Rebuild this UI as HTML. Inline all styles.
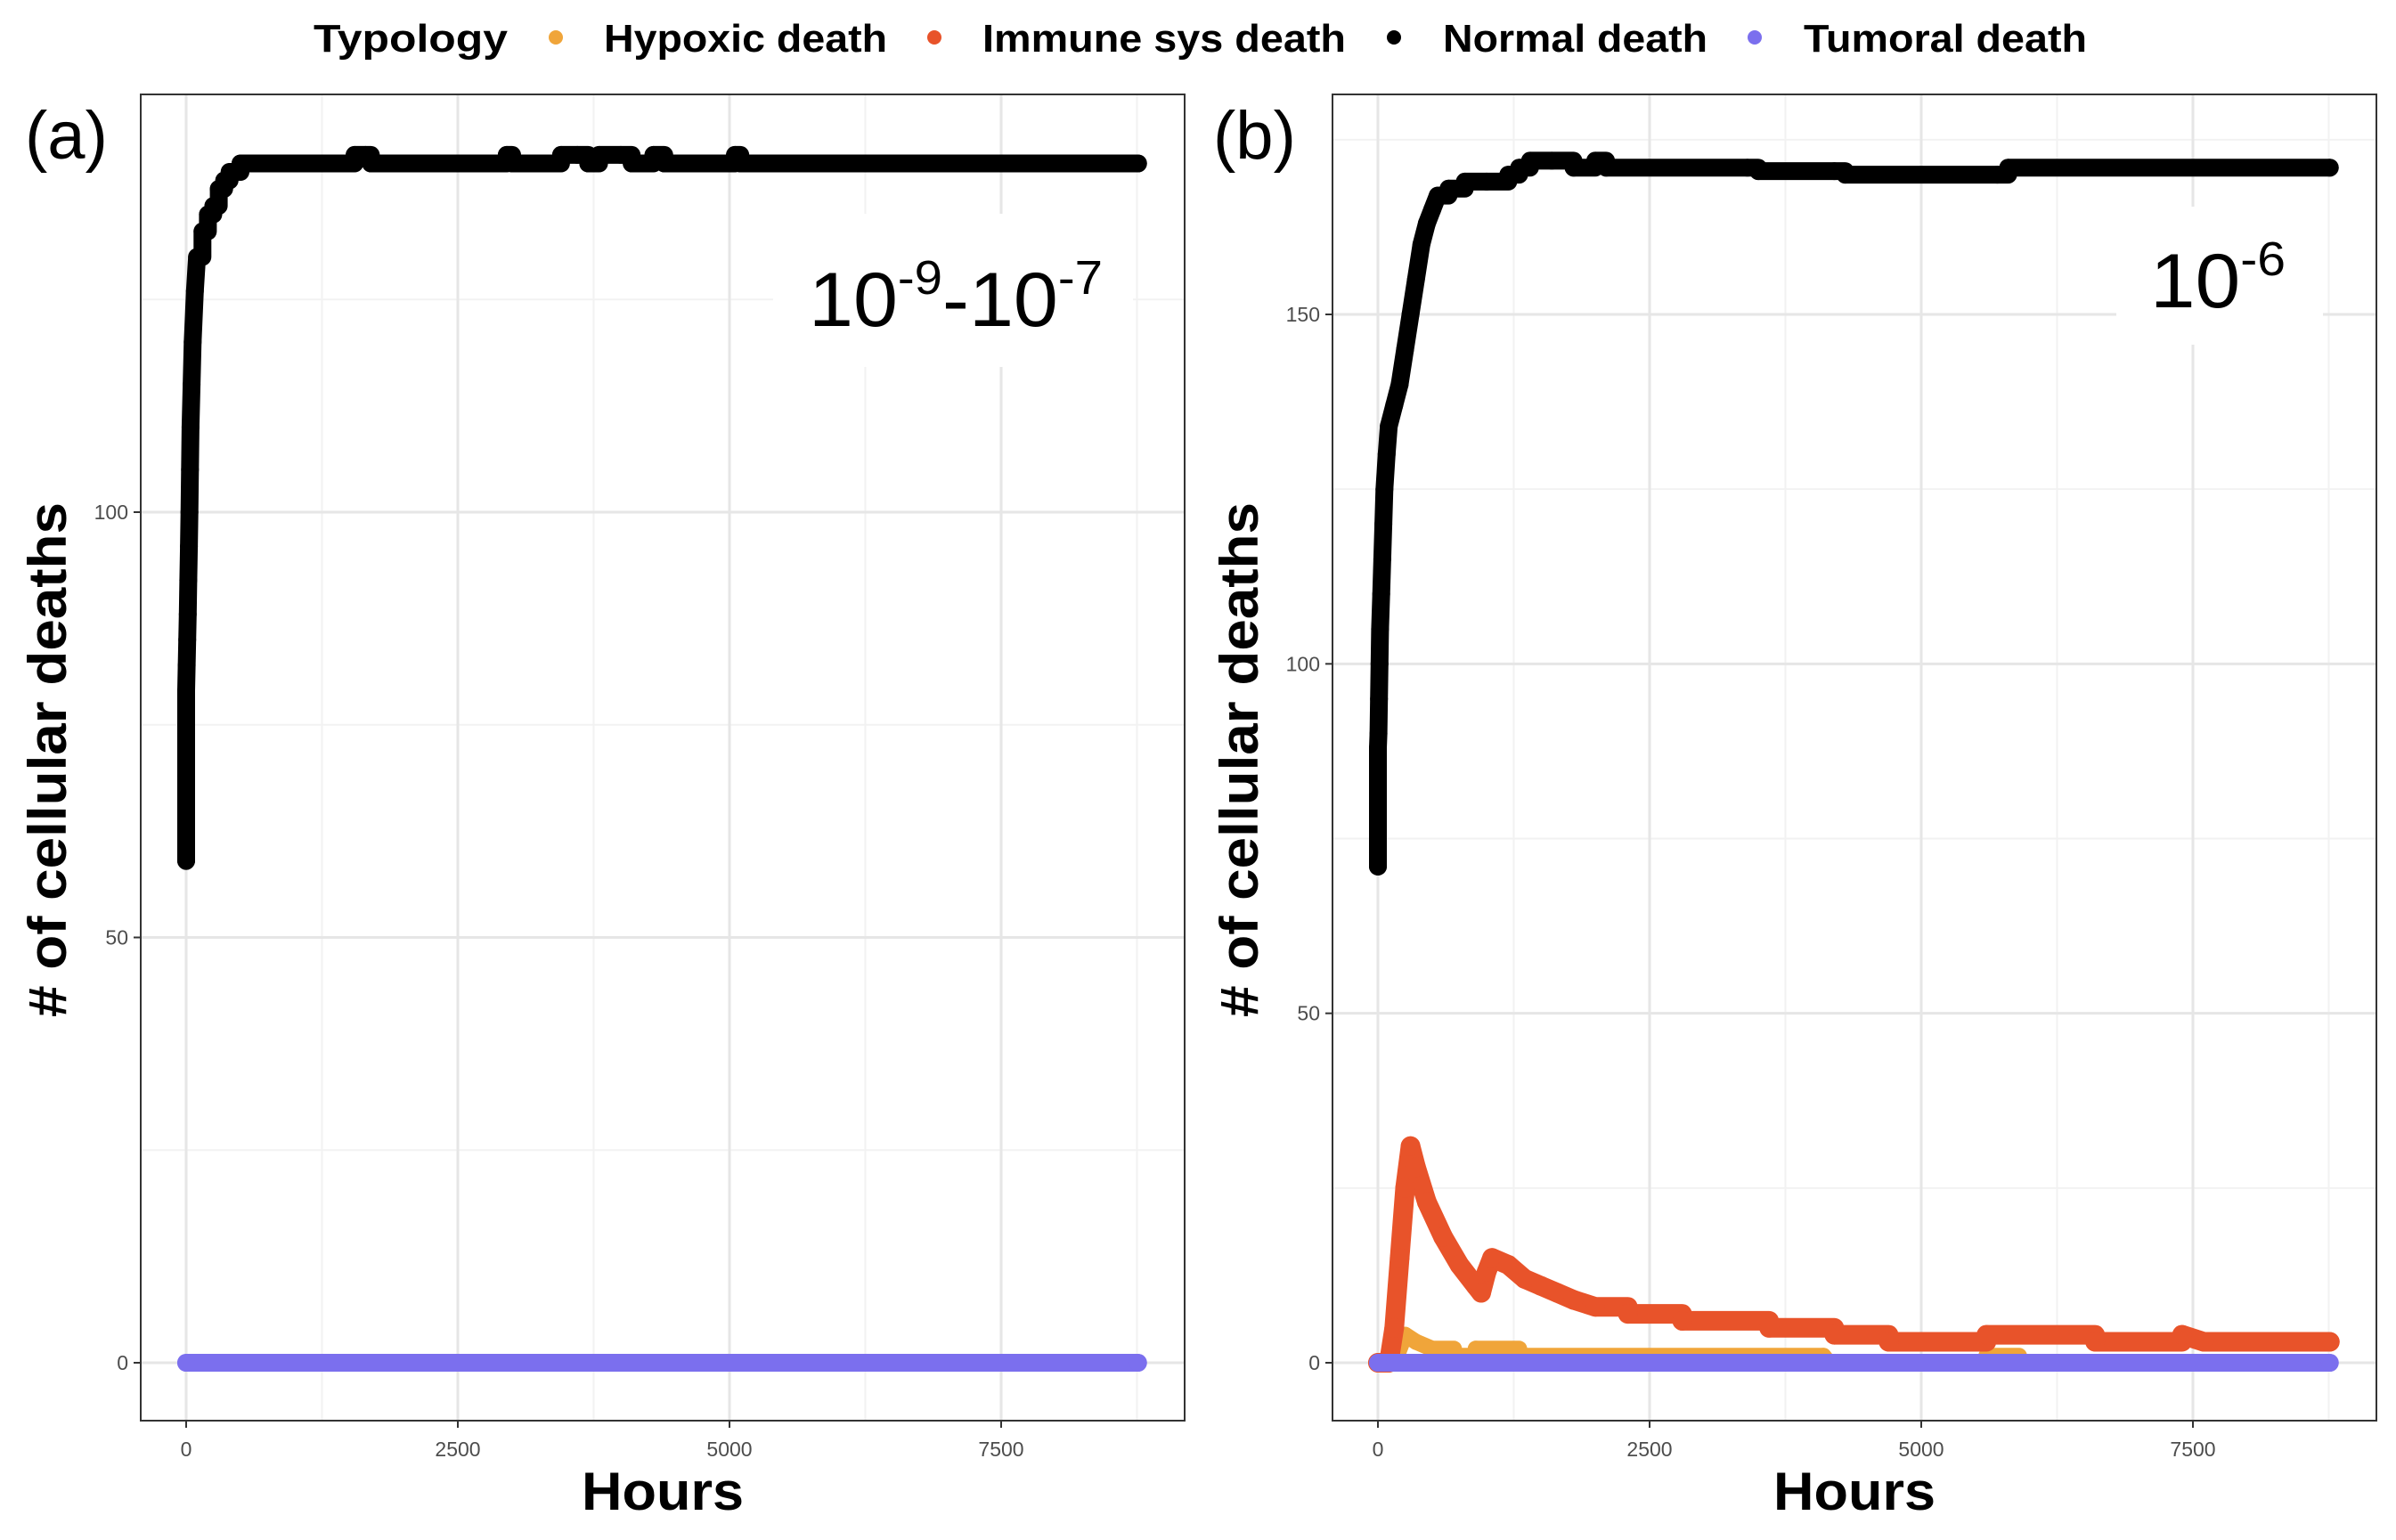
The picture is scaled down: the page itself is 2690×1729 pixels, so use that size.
<!DOCTYPE html>
<html><head><meta charset="utf-8">
<style>
html,body{margin:0;padding:0;background:#fff;}
svg{display:block;font-family:"Liberation Sans",sans-serif;}
</style></head>
<body>
<svg id="fig" width="2690" height="1729" viewBox="0 0 2690 1729" xmlns="http://www.w3.org/2000/svg">
<g font-weight="bold" font-size="44" fill="#000">
  <text x="352" y="58" textLength="218" lengthAdjust="spacingAndGlyphs">Typology</text>
  <circle cx="624" cy="42" r="8" fill="#F0A53A"/>
  <text x="678" y="58" textLength="318" lengthAdjust="spacingAndGlyphs">Hypoxic death</text>
  <circle cx="1049" cy="42" r="8" fill="#E8532A"/>
  <text x="1103" y="58" textLength="408" lengthAdjust="spacingAndGlyphs">Immune sys death</text>
  <circle cx="1565" cy="42" r="8" fill="#000"/>
  <text x="1620" y="58" textLength="297" lengthAdjust="spacingAndGlyphs">Normal death</text>
  <circle cx="1970" cy="42" r="8" fill="#7B6FEE"/>
  <text x="2025" y="58" textLength="318" lengthAdjust="spacingAndGlyphs">Tumoral death</text>
</g>
</svg>
<script>
// ---- data (hours, counts) ----
const xTicks = [0, 2500, 5000, 7500];
const xTickLabels = ["0", "2500", "5000", "7500"];
const yTicksA = [0, 50, 100];
const yTicksB = [0, 50, 100, 150];

const normalA_t = [0,0,0,0,0,0,5,10,15,20,25,30,35,40,50,60,80,100,150,200,250,300,350,400,500,1500,1550,1650,1700,2900,2950,3000,3400,3450,3600,3700,3800,4000,4100,4300,4400,5000,5050,5100,8760];
const normalA_v = [59,64,67,69,74,79,82,85,88,92,96,100,105,110,115,120,126,130,133,135,136,138,139,140,141,141,142,142,141,141,142,141,141,142,142,141,142,142,141,142,141,141,142,141,141];
const tumorA_t = [0, 8760];
const tumorA_v = [0, 0];

const normalB_t = [0,0,0,0,0,0,5,10,15,20,30,40,50,60,80,100,150,200,250,300,350,400,450,500,550,650,800,1000,1200,1300,1400,1600,1800,2000,2100,3400,3500,4200,4300,5700,5800,8760];
const normalB_v = [71,73,76,80,85,88,90,95,100,105,110,115,120,125,130,134,137,140,145,150,155,160,163,165,167,168,169,169,170,171,172,172,171,172,171,171,170.5,170.5,170,170,171,171];
const immuneB_t = [0,100,150,200,250,300,350,450,600,750,900,950,1000,1050,1200,1350,1500,1650,1800,2000,2300,2800,3600,4200,4700,5600,6600,7400,7600,8760];
const immuneB_v = [0,0,5,15,25,31,28,23,18,14,11,10,13,15,14,12,11,10,9,8,7,6,5,4,3,4,3,4,3,3];
const hypoxB_t = [150,250,350,500,700,900,1300,4100,4150,5600,5900,8760];
const hypoxB_v = [0,4,3,2,1,2,1,1,0,1,0,0];
const tumorB_t = [0, 8760];
const tumorB_v = [0, 0];

const NS = "http://www.w3.org/2000/svg";
const svg = document.getElementById('fig');
function mk(tag, attrs, parent){
  const e = document.createElementNS(NS, tag);
  for (const k in attrs) e.setAttribute(k, attrs[k]);
  (parent||svg).appendChild(e);
  return e;
}

function panel(p){
  const g = mk('g', {});
  
  
  const sx = v => p.x0 + (v / 7500) * (p.x7500 - p.x0);
  const sy = v => p.y0 - (v / p.yRef) * (p.y0 - p.yRefPx);
  const bg = mk('rect', {x:p.L, y:p.T, width:p.R-p.L, height:p.B-p.T, fill:'#fff'}, g);
  
  
  for (let i = 0; i < xTicks.length; i++){
    const x = sx(xTicks[i] + 1250);
    if (x < p.R) mk('line', {x1:x, x2:x, y1:p.T, y2:p.B, stroke:'#f2f2f2', 'stroke-width':2}, g);
  }
  for (let i = 0; i < p.yTicks.length; i++){
    const y = sy(p.yTicks[i] + 25);
    if (y > p.T) mk('line', {x1:p.L, x2:p.R, y1:y, y2:y, stroke:'#f2f2f2', 'stroke-width':2}, g);
  }
  for (const t of xTicks){ const x = sx(t); mk('line', {x1:x, x2:x, y1:p.T, y2:p.B, stroke:'#e6e6e6', 'stroke-width':3}, g); }
  for (const t of p.yTicks){ const y = sy(t); mk('line', {x1:p.L, x2:p.R, y1:y, y2:y, stroke:'#e6e6e6', 'stroke-width':3}, g); }
  for (const s of p.series){
    const sg = mk('g', {}, g);
    
    
    let d = '';
    for (let i = 0; i < s.t.length; i++){
      const x = sx(s.t[i]), y = sy(s.v[i]);
      if (i === 0) d += 'M' + x.toFixed(1) + ' ' + y.toFixed(1);
      else if (s.step && s.t[i] - s.t[i-1] > s.step) {
        d += 'L' + x.toFixed(1) + ' ' + sy(s.v[i-1]).toFixed(1) + 'L' + x.toFixed(1) + ' ' + y.toFixed(1);
      } else d += 'L' + x.toFixed(1) + ' ' + y.toFixed(1);
    }
    mk('path', {d:d, fill:'none', stroke:s.color, 'stroke-width':s.r*2, 'stroke-linejoin':'round', 'stroke-linecap':'round'}, sg);
    for (let i = 0; i < s.t.length; i++){
      const c = mk('circle', {cx:sx(s.t[i]).toFixed(1), cy:sy(s.v[i]).toFixed(1), r:s.r, fill:s.color}, sg);
      
      
    }
  }
  const box = mk('rect', {x:p.box[0], y:p.box[1], width:p.box[2], height:p.box[3], fill:'#fff'}, g);
  
  
  const lbl = mk('text', {x:p.lbl[0], y:p.lbl[1], 'font-size':86, fill:'#000', textLength:p.lblLen, lengthAdjust:'spacingAndGlyphs'}, g);
  
  
  lbl.innerHTML = p.lblHtml;
  const br = mk('rect', {x:p.L, y:p.T, width:p.R-p.L, height:p.B-p.T, fill:'none', stroke:'#333', 'stroke-width':2}, g);
  
  
  for (let i = 0; i < xTicks.length; i++){
    const x = sx(xTicks[i]);
    mk('line', {x1:x, x2:x, y1:p.B, y2:p.B+8, stroke:'#333', 'stroke-width':2}, g);
    const tl = mk('text', {x:x, y:p.B+40, 'font-size':23, fill:'#4d4d4d', 'text-anchor':'middle'}, g);
    
    
    tl.textContent = xTickLabels[i];
  }
  for (const t of p.yTicks){
    const y = sy(t);
    mk('line', {x1:p.L-8, x2:p.L, y1:y, y2:y, stroke:'#333', 'stroke-width':2}, g);
    const tl = mk('text', {x:p.L-14, y:y+8, 'font-size':23, fill:'#4d4d4d', 'text-anchor':'end'}, g);
    
    
    tl.textContent = String(t);
  }
  const xt = mk('text', {x:(p.L+p.R)/2, y:1695, 'font-size':60, 'font-weight':'bold', 'text-anchor':'middle', textLength:182, lengthAdjust:'spacingAndGlyphs'}, g);
  
  
  xt.textContent = 'Hours';
  const yx = p.L - 84, yc = 853;
  const yt = mk('text', {x:yx, y:yc, 'font-size':60, 'font-weight':'bold', 'text-anchor':'middle', transform:'rotate(-90 '+yx+' '+yc+')', textLength:578, lengthAdjust:'spacingAndGlyphs'}, g);
  
  
  yt.textContent = '# of cellular deaths';
  const pl = mk('text', {x:p.tag[0], y:p.tag[1], 'font-size':76, fill:'#000'}, g);
  
  
  pl.textContent = p.tagText;
}

panel({
  name:'panel-a', L:158, R:1330, T:106, B:1595,
  x0:209, x7500:1124, y0:1530, yRef:100, yRefPx:575, yTicks:yTicksA,
  series:[
    {name:'series-tumoral-a', t:tumorA_t, v:tumorA_v, color:'#7B6FEE', r:10},
    {name:'series-normal-a', t:normalA_t, v:normalA_v, color:'#000', r:10, step:40}
  ],
  box:[868,240,404,172], lbl:[908,366], lblLen:330,
  lblHtml:'10<tspan dy="-36" font-size="54">-9</tspan><tspan dy="36">-10</tspan><tspan dy="-36" font-size="54">-7</tspan>',
  tag:[28,178], tagText:'(a)'
});
panel({
  name:'panel-b', L:1496, R:2668, T:106, B:1595,
  x0:1547, x7500:2462, y0:1530, yRef:150, yRefPx:353, yTicks:yTicksB,
  series:[
    {name:'series-hypoxic-b', t:hypoxB_t, v:hypoxB_v, color:'#F0A53A', r:9, step:150},
    {name:'series-immune-b', t:immuneB_t, v:immuneB_v, color:'#E8532A', r:11, step:200},
    {name:'series-tumoral-b', t:tumorB_t, v:tumorB_v, color:'#7B6FEE', r:10},
    {name:'series-normal-b', t:normalB_t, v:normalB_v, color:'#000', r:10, step:90}
  ],
  box:[2376,232,232,155], lbl:[2414,345], lblLen:152,
  lblHtml:'10<tspan dy="-36" font-size="54">-6</tspan>',
  tag:[1362,178], tagText:'(b)'
});
</script>
</body></html>
